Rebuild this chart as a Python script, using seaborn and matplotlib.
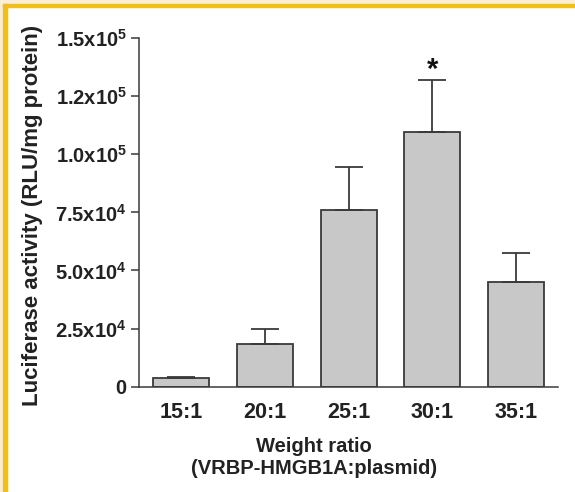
import numpy as np
import matplotlib
matplotlib.use("Agg")
import matplotlib.pyplot as plt
import seaborn as sns
from matplotlib.patches import Rectangle

# datos
ratios = ["15:1", "20:1", "25:1", "30:1", "35:1"]
luciferasa = [3600, 18200, 76000, 109400, 44900]
error_sup = [700, 6500, 18300, 22400, 12700]
y_ticks = [0, 25000, 50000, 75000, 100000, 125000, 150000]
y_etiquetas = ["0", "2.5x10$^4$", "5.0x10$^4$", "7.5x10$^4$",
               "1.0x10$^5$", "1.2x10$^5$", "1.5x10$^5$"]
marca = "*"
marca_idx = 3

sns.set_style("ticks")
plt.rcParams["font.family"] = ["Liberation Sans", "DejaVu Sans"]
plt.rcParams["font.weight"] = "bold"
plt.rcParams["mathtext.fontset"] = "custom"
plt.rcParams["mathtext.bf"] = "Liberation Sans:bold"
plt.rcParams["mathtext.rm"] = "Liberation Sans:bold"
plt.rcParams["mathtext.default"] = "bf"

gris_borde = "#3a3a3a"

fig = plt.figure(figsize=(5.75, 4.92), dpi=100)
ax = fig.add_axes([139.3 / 575, 1 - 386.7 / 492, 418.7 / 575, 348.7 / 492])

sns.barplot(x=ratios, y=luciferasa, color="#c8c8c8", edgecolor=gris_borde,
            linewidth=1.3, width=0.667, errorbar=None, saturation=1, ax=ax)
x = np.arange(len(ratios))
ax.errorbar(x, luciferasa, yerr=[np.zeros(len(x)), error_sup], fmt="none",
            ecolor=gris_borde, elinewidth=1.3, capsize=10, capthick=1.3, zorder=3)

ax.text(marca_idx, luciferasa[marca_idx] + error_sup[marca_idx] + 4500, marca,
        ha="center", va="center", fontsize=21, fontweight="bold", color="#111111")

ax.set_xlim(-0.5, 4.5)
ax.set_ylim(0, 150000)
ax.set_yticks(y_ticks)
ax.set_yticklabels(y_etiquetas)
ax.tick_params(axis="y", length=6, width=1.1, color=gris_borde, pad=3,
               labelsize=14.5, labelcolor="#222222")
ax.tick_params(axis="x", length=0, pad=11, labelsize=15.5, labelcolor="#222222")
for lab in ax.get_xticklabels() + ax.get_yticklabels():
    lab.set_fontweight("bold")

sns.despine(ax=ax)
ax.spines["left"].set_color(gris_borde)
ax.spines["bottom"].set_color(gris_borde)
ax.spines["left"].set_linewidth(1.1)
ax.spines["bottom"].set_linewidth(1.1)

ax.set_ylabel("Luciferase activity (RLU/mg protein)", fontsize=16,
              fontweight="bold", color="#222222")
ax.yaxis.set_label_coords((33 - 139.3) / 418.7, (386.7 - 215) / 348.7)
ax.yaxis.label.set_va("center")
ax.set_xlabel("Weight ratio\n(VRBP-HMGB1A:plasmid)", fontsize=14.5,
              fontweight="bold", color="#222222", linespacing=1.2)
ax.xaxis.set_label_coords((314 - 139.3) / 418.7, (386.7 - 437) / 348.7)
ax.xaxis.label.set_va("top")

# marco naranja
W, H = 575, 492
fig.add_artist(Rectangle((0, 1 - 4 / H), 1, 4 / H, transform=fig.transFigure,
                         color="#fcefcf", zorder=0))
fig.add_artist(Rectangle((0, 0), 2.7 / W, 1, transform=fig.transFigure,
                         color="#fcefcf", zorder=0))
fig.add_artist(Rectangle((2.7 / W, 1 - 7 / H), 1, 3 / H, transform=fig.transFigure,
                         color="#f2be1a", zorder=1))
fig.add_artist(Rectangle((2.7 / W, 0), 4 / W, 1 - 4 / H, transform=fig.transFigure,
                         color="#f2be1a", zorder=1))

fig.savefig("out.png", dpi=100)
